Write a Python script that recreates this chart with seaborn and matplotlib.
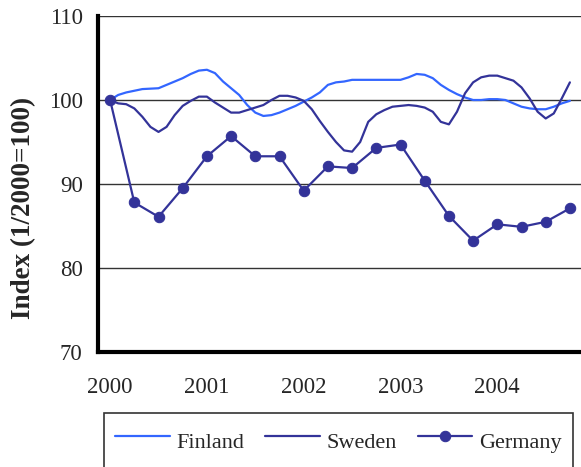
import numpy as np
import pandas as pd
import matplotlib
matplotlib.use("Agg")
import matplotlib.pyplot as plt
import seaborn as sns

# Months since Jan 2000 (monthly category axis), data from month 1
finland = [100.0, 100.6, 100.9, 101.1, 101.3, 101.35, 101.4, 101.8, 102.2, 102.6,
           103.1, 103.5, 103.6, 103.2, 102.2, 101.4, 100.6, 99.4, 98.5, 98.1,
           98.2, 98.5, 98.9, 99.3, 99.8, 100.3, 100.9, 101.8, 102.1, 102.2,
           102.4, 102.4, 102.4, 102.4, 102.4, 102.4, 102.4, 102.7, 103.1, 103.0,
           102.6, 101.8, 101.2, 100.7, 100.3, 100.0, 100.0, 100.1, 100.1, 100.0,
           99.6, 99.2, 99.0, 98.9, 98.9, 99.2, 99.6, 99.9]
sweden = [100.0, 99.6, 99.5, 99.0, 98.0, 96.8, 96.2, 96.8, 98.2, 99.3,
          99.9, 100.4, 100.4, 99.7, 99.1, 98.5, 98.5, 98.8, 99.1, 99.4,
          100.0, 100.5, 100.5, 100.3, 99.9, 98.9, 97.5, 96.2, 95.0, 94.0,
          93.85, 95.0, 97.4, 98.3, 98.8, 99.2, 99.3, 99.4, 99.3, 99.1,
          98.6, 97.4, 97.1, 98.6, 100.8, 102.1, 102.7, 102.9, 102.9, 102.6,
          102.3, 101.5, 100.2, 98.6, 97.8, 98.4, 100.2, 102.1]
# Germany is quarterly (months 1, 4, 7, ...)
germany = [100.0, 87.8, 86.1, 89.5, 93.3, 95.7, 93.3, 93.3, 89.2, 92.1,
           91.9, 94.3, 94.7, 90.4, 86.2, 83.25, 85.2, 84.9, 85.5, 87.1]

years = ["2000", "2001", "2002", "2003", "2004"]
yticks = [70, 80, 90, 100, 110]

months = np.arange(1, 1 + len(finland))
quarters = np.arange(1, 1 + 3 * len(germany), 3)

df_m = pd.DataFrame({"month": months, "Finland": finland, "Sweden": sweden})
df_q = pd.DataFrame({"month": quarters, "Germany": germany})

sns.set_style("white")
plt.rcParams["font.family"] = ["Liberation Serif", "DejaVu Serif"]

light = "#3366FF"
navy = "#333399"

fig = plt.figure(figsize=(5.81, 4.67), dpi=100)
ax = fig.add_axes([98 / 581, 1 - 352 / 467, 484 / 581, 336 / 467])

sns.lineplot(data=df_m, x="month", y="Finland", ax=ax, color=light, lw=1.6, label="Finland")
sns.lineplot(data=df_m, x="month", y="Sweden", ax=ax, color=navy, lw=1.6, label="Sweden")
sns.lineplot(data=df_q, x="month", y="Germany", ax=ax, color=navy, lw=1.6,
             marker="o", markersize=7.5, markeredgecolor=navy, label="Germany")

ax.set_xlim(-0.5, 59.5)
ax.set_ylim(70, 110)
ax.set_yticks(yticks)
ax.set_yticklabels([str(v) for v in yticks])
ax.set_xticks(np.arange(-0.5, 60, 6))
ax.set_xticklabels([])
ax.set_xticks(np.arange(1, 60, 12), minor=True)
ax.set_xticklabels(years, minor=True)
ax.tick_params(axis="x", which="major", direction="out", length=5, width=2, color="black")
ax.tick_params(axis="x", which="minor", length=0, pad=18, labelsize=16.5)
ax.tick_params(axis="y", direction="out", length=5, width=2, color="black", pad=6, labelsize=16.5)
ax.set_xlabel("")
ax.set_ylabel("Index (1/2000=100)", fontsize=19.5, fontweight="bold")
ax.yaxis.set_label_coords(-0.128, 0.4286)

ax.grid(axis="y", color="#333333", lw=1.0)
ax.set_axisbelow(True)
for side in ["top", "right"]:
    ax.spines[side].set_visible(False)
for side in ["left", "bottom"]:
    ax.spines[side].set_linewidth(3)
    ax.spines[side].set_color("black")

leg = ax.legend(loc="upper left", bbox_to_anchor=(104 / 581, 1 - 413 / 467),
                bbox_transform=fig.transFigure, borderaxespad=0, ncol=3,
                fontsize=16, frameon=True, fancybox=False, edgecolor="black",
                handlelength=2.45, handletextpad=0.3, columnspacing=0.95,
                borderpad=0.5, handleheight=1.95)
leg.get_frame().set_linewidth(1.2)

fig.savefig("out.png", dpi=100, facecolor="white")
